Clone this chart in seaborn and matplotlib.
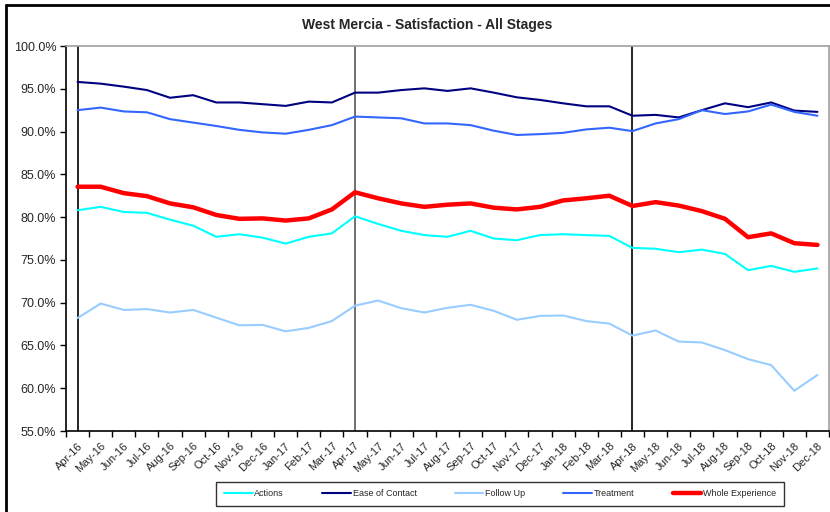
import pandas as pd
import matplotlib.pyplot as plt
import seaborn as sns
from matplotlib.lines import Line2D
from matplotlib.ticker import FixedLocator, FuncFormatter

months = ["Apr-16", "May-16", "Jun-16", "Jul-16", "Aug-16", "Sep-16", "Oct-16", "Nov-16",
          "Dec-16", "Jan-17", "Feb-17", "Mar-17", "Apr-17", "May-17", "Jun-17", "Jul-17",
          "Aug-17", "Sep-17", "Oct-17", "Nov-17", "Dec-17", "Jan-18", "Feb-18", "Mar-18",
          "Apr-18", "May-18", "Jun-18", "Jul-18", "Aug-18", "Sep-18", "Oct-18", "Nov-18",
          "Dec-18"]

actions = [80.8, 81.2, 80.6, 80.5, 79.7, 79.0, 77.7, 78.0, 77.6, 76.9, 77.7, 78.1,
           80.1, 79.2, 78.4, 77.9, 77.7, 78.4, 77.5, 77.3, 77.9, 78.0, 77.9, 77.8,
           76.4, 76.3, 75.9, 76.2, 75.7, 73.8, 74.3, 73.6, 74.0]
ease_of_contact = [95.8, 95.6, 95.25, 94.85, 93.95, 94.25, 93.4, 93.4, 93.2, 93.0, 93.5, 93.4,
                   94.55, 94.55, 94.85, 95.05, 94.75, 95.05, 94.55, 94.0, 93.7, 93.3, 92.95, 92.95,
                   91.85, 91.95, 91.65, 92.5, 93.3, 92.85, 93.4, 92.45, 92.3]
follow_up = [68.2, 69.9, 69.15, 69.25, 68.85, 69.15, 68.25, 67.35, 67.4, 66.65, 67.05, 67.85,
             69.65, 70.25, 69.35, 68.85, 69.4, 69.75, 69.05, 68.0, 68.45, 68.5, 67.85, 67.55,
             66.15, 66.75, 65.45, 65.35, 64.45, 63.4, 62.7, 59.7, 61.55]
treatment = [92.5, 92.8, 92.35, 92.25, 91.45, 91.05, 90.65, 90.2, 89.9, 89.75, 90.2, 90.75,
             91.75, 91.65, 91.55, 90.95, 90.95, 90.75, 90.1, 89.6, 89.7, 89.85, 90.25, 90.45,
             90.05, 90.95, 91.45, 92.5, 92.05, 92.35, 93.15, 92.3, 91.85]
whole_experience = [83.55, 83.55, 82.8, 82.45, 81.6, 81.15, 80.25, 79.8, 79.85, 79.6, 79.85, 80.9,
                    82.9, 82.2, 81.6, 81.2, 81.45, 81.6, 81.1, 80.9, 81.2, 81.95, 82.2, 82.5,
                    81.3, 81.75, 81.35, 80.7, 79.8, 77.65, 78.1, 76.95, 76.75]

series = {
    "Actions": actions,
    "Ease of Contact": ease_of_contact,
    "Follow Up": follow_up,
    "Treatment": treatment,
    "Whole Experience": whole_experience,
}
palette = {
    "Actions": "#00FFFF",
    "Ease of Contact": "#000080",
    "Follow Up": "#99CCFF",
    "Treatment": "#3366FF",
    "Whole Experience": "#FF0000",
}
widths = {"Actions": 1.5, "Ease of Contact": 1.5, "Follow Up": 1.5,
          "Treatment": 1.5, "Whole Experience": 3.2}

rows = []
for name, vals in series.items():
    for i, v in enumerate(vals):
        rows.append({"idx": i, "Series": name, "Value": v})
df = pd.DataFrame(rows)

sns.set_style("white")
plt.rcParams["font.family"] = ["Liberation Sans", "DejaVu Sans"]

fig = plt.figure(figsize=(8.3, 5.12), dpi=100)
ax = fig.add_axes([66 / 830, 1 - 431 / 512, 763 / 830, 385 / 512])

for name in series:
    sub = df[df["Series"] == name]
    sns.lineplot(data=sub, x="idx", y="Value", color=palette[name], linewidth=widths[name],
                 ax=ax, label=name, zorder=3)

# year markers
ax.axvline(0, color="black", linewidth=1.2, zorder=2)
ax.axvline(12, color="#707070", linewidth=1.4, zorder=2)
ax.axvline(24, color="black", linewidth=1.2, zorder=2)

ax.set_xlim(-0.5, len(months) - 0.5)
ax.set_ylim(55, 100)
ax.set_xticks(range(len(months)))
ax.set_xticklabels(months, rotation=45, ha="right", rotation_mode="anchor", fontsize=8)
ax.xaxis.set_minor_locator(FixedLocator([i - 0.5 for i in range(len(months) + 1)]))
ax.tick_params(axis="x", which="major", length=0, pad=7)
ax.tick_params(axis="x", which="minor", length=4, direction="out", color="black", width=1)
ax.set_yticks(range(55, 101, 5))
ax.yaxis.set_major_formatter(FuncFormatter(lambda v, p: f"{v:.1f}%"))
ax.tick_params(axis="y", length=4, direction="out", color="black", width=1, labelsize=9, pad=3)
ax.tick_params(which="both", bottom=True, left=True)
ax.set_xlabel("")
ax.set_ylabel("")

for side in ["top", "right"]:
    ax.spines[side].set_color("#A0A0A0")
    ax.spines[side].set_linewidth(1.2)
for side in ["left", "bottom"]:
    ax.spines[side].set_color("black")
    ax.spines[side].set_linewidth(1.2)

fig.text(427 / 830, 1 - 25 / 512, "West Mercia - Satisfaction - All Stages",
         ha="center", va="center", fontsize=10, fontweight="bold")

handles = [Line2D([0], [0], color=palette[n], linewidth=widths[n]) for n in series]
leg = fig.legend(handles, list(series.keys()), loc="center", ncol=5,
                 bbox_to_anchor=(500 / 830, 1 - 494 / 512), fontsize=6.5, frameon=True,
                 fancybox=False, edgecolor="black", handlelength=3.2, handletextpad=0.2,
                 columnspacing=4.2, borderpad=0.8)
leg.get_frame().set_linewidth(1)
ax.get_legend().remove()

# chart area border (top and left visible)
fig.add_artist(Line2D([6 / 830, 1], [1 - 5 / 512, 1 - 5 / 512], color="black", linewidth=2,
                      transform=fig.transFigure))
fig.add_artist(Line2D([6 / 830, 6 / 830], [0, 1 - 5 / 512], color="black", linewidth=2,
                      transform=fig.transFigure))

fig.savefig("out.png", dpi=100)
